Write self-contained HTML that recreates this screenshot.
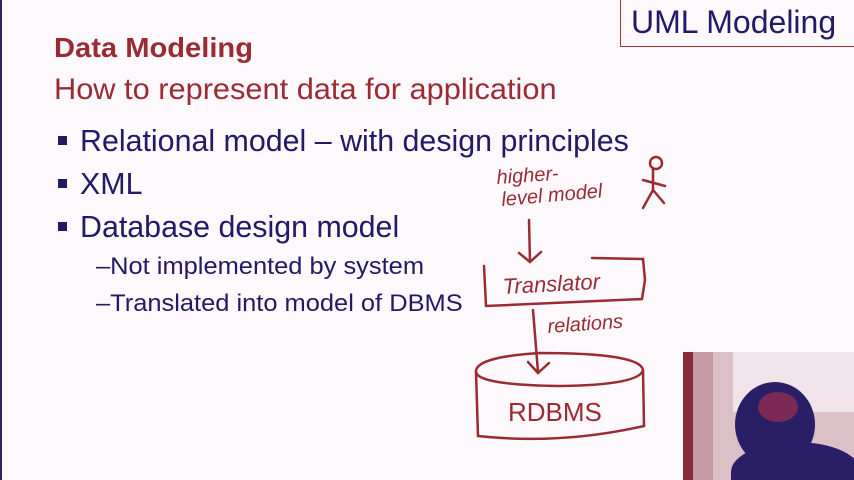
<!DOCTYPE html>
<html><head><meta charset="utf-8"><style>
body{margin:0;width:854px;height:480px;overflow:hidden;background:#fdf8fc;position:relative;font-family:"Liberation Sans",sans-serif}
.t{position:absolute;white-space:nowrap;transform:scaleX(0.98);transform-origin:0 0;line-height:1}
.n{color:#221a66}.r{color:#9b2b32}
</style></head><body>
<div style="position:absolute;left:0;top:0;width:2px;height:480px;background:#2a2466"></div>
<div style="position:absolute;left:620px;top:0;width:240px;height:47px;border:1px solid #a33;border-top:none;box-sizing:border-box"></div>
<div class="t n" style="left:631px;top:6px;font-size:32px;transform:scaleX(1.0)">UML Modeling</div>
<div class="t r" style="left:54px;top:34px;font-size:28px;font-weight:bold;transform:scaleX(1.04)">Data Modeling</div>
<div class="t r" style="left:54px;top:75px;font-size:30px;transform:scaleX(1.025)">How to represent data for application</div>
<div style="position:absolute;left:58px;top:136px;width:9px;height:9px;background:#221a66"></div>
<div class="t n" style="left:80px;top:125px;font-size:31px">Relational model – with design principles</div>
<div style="position:absolute;left:58px;top:179px;width:9px;height:9px;background:#221a66"></div>
<div class="t n" style="left:80px;top:168px;font-size:31px">XML</div>
<div style="position:absolute;left:58px;top:222px;width:9px;height:9px;background:#221a66"></div>
<div class="t n" style="left:80px;top:211px;font-size:31px">Database design model</div>
<div class="t n" style="left:96px;top:255px;font-size:24px;transform:scaleX(1.06)">–Not implemented by system</div>
<div class="t n" style="left:96px;top:292px;font-size:24px;transform:scaleX(1.06)">–Translated into model of DBMS</div>
<svg width="854" height="480" style="position:absolute;left:0;top:0" fill="none" stroke="#9b2b32" stroke-width="2.5" stroke-linecap="round">
<text x="497" y="184" fill="#9b2b32" stroke="none" font-size="20" font-family="Liberation Sans" font-style="italic" transform="rotate(-4 497 184)">higher-</text>
<text x="502" y="206" fill="#9b2b32" stroke="none" font-size="20" font-family="Liberation Sans" font-style="italic" transform="rotate(-5 502 206)">level model</text>
<circle cx="656" cy="163" r="6"/>
<path d="M653 169 L653 190 M643 180 L665 186 M653 190 L643 208 M653 190 L664 203"/>
<path d="M529 220 L530 262 M519 253 L530 262 L541 252"/>
<path d="M484 266 L486 306 L642 299 L645 280 L643 259 L592 258"/>
<text x="503" y="294" fill="#9b2b32" stroke="none" font-size="22" font-family="Liberation Sans" font-style="italic" transform="rotate(-3 503 294)">Translator</text>
<text x="548" y="333" fill="#9b2b32" stroke="none" font-size="20" font-family="Liberation Sans" font-style="italic" transform="rotate(-4 548 333)">relations</text>
<path d="M533 310 L538 372 M528 362 L538 373 L549 363"/>
<path d="M476 372 Q475 357 540 353 Q640 353 643 370 Q640 385 560 386 Q478 385 476 372 Z"/>
<path d="M476 372 L478 436 Q560 445 644 426 L643 370"/>
<text x="508" y="421" fill="#9b2b32" stroke="none" font-size="26" font-family="Liberation Sans">RDBMS</text>
</svg>
<div style="position:absolute;left:683px;top:352px;width:171px;height:128px;background:#dcc0c8;overflow:hidden">
<div style="position:absolute;left:0;top:0;width:10px;height:128px;background:#8a2a3a"></div>
<div style="position:absolute;left:10px;top:0;width:20px;height:128px;background:#c49aa4"></div>
<div style="position:absolute;left:50px;top:0;width:121px;height:60px;background:#f0e4ea"></div>
<div style="position:absolute;left:48px;top:90px;width:130px;height:60px;border-radius:50% 50% 0 0;background:#2a1f66"></div>
<div style="position:absolute;left:52px;top:30px;width:80px;height:85px;border-radius:50%;background:#2a1e66"></div>
<div style="position:absolute;left:75px;top:40px;width:40px;height:30px;border-radius:50%;background:#7a2a55"></div>
</div>
</body></html>
